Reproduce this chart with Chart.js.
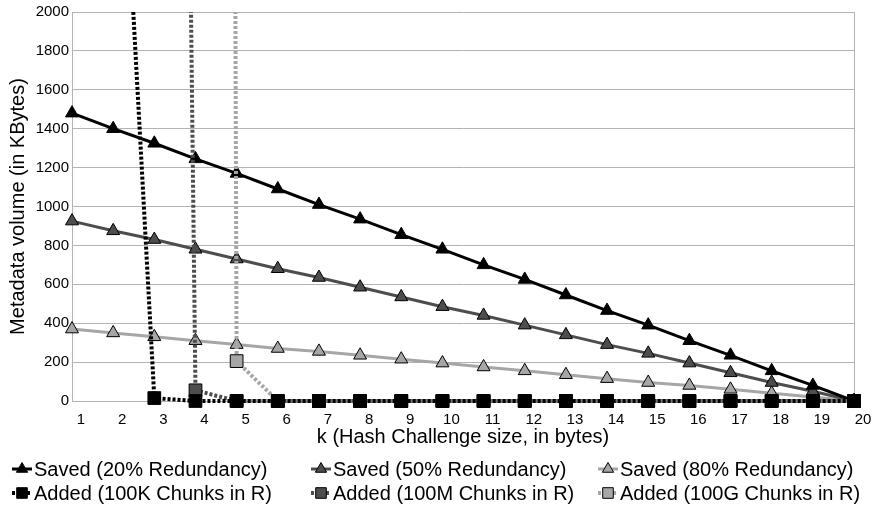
<!DOCTYPE html>
<html>
<head>
<meta charset="utf-8">
<script src="https://cdn.jsdelivr.net/npm/chart.js@4/dist/chart.umd.min.js"></script>
<style>
  html, body { margin: 0; padding: 0; background: #fff; }
  #wrap { width: 873px; height: 512px; position: relative; }
</style>
</head>
<body>
<div id="wrap"><canvas id="c" width="873" height="512"></canvas></div>
<script>
// Hash challenge sizes (bytes)
const kValues = [1, 2, 3, 4, 5, 6, 7, 8, 9, 10, 11, 12, 13, 14, 15, 16, 17, 18, 19, 20];

// Metadata saved, in KBytes
const saved20 = [1480, 1400, 1325, 1245, 1170, 1090, 1010, 935, 855, 780, 700, 625, 545, 465, 390, 310, 235, 155, 80, 0];
const saved50 = [925, 875, 830, 780, 730, 680, 635, 585, 535, 485, 440, 390, 340, 290, 245, 195, 145, 95, 50, 0];
const saved80 = [370, 350, 330, 310, 290, 270, 255, 235, 215, 195, 175, 155, 135, 115, 95, 80, 60, 40, 20, 0];

// Metadata added, in KBytes (null where far above the axis range)
const added100K = [null, 3900, 15, 0, 0, 0, 0, 0, 0, 0, 0, 0, 0, 0, 0, 0, 0, 0, 0, 0];
const added100M = [null, null, 18000, 55, 0, 0, 0, 0, 0, 0, 0, 0, 0, 0, 0, 0, 0, 0, 0, 0];
const added100G = [null, null, null, 60000, 205, 0, 0, 0, 0, 0, 0, 0, 0, 0, 0, 0, 0, 0, 0, 0];

const yTicks = { min: 0, max: 2000, step: 200 };

const FONT = '"Liberation Sans", Arial, sans-serif';
const GRID = '#b3b3b3';
// markers may spill past the sides and bottom of the plot, lines stop at the top
const CLIP = { left: 12, right: 12, top: 0, bottom: 12 };

function savedSet(label, data, line, fill, order) {
  return {
    label, data, order, clip: CLIP,
    borderColor: line, borderWidth: 3,
    pointStyle: 'triangle', pointRadius: 7.5,
    pointBackgroundColor: fill, pointBorderColor: '#000', pointBorderWidth: 1,
    tension: 0
  };
}
function addedSet(label, data, line, fill, order) {
  return {
    label, data, order, clip: CLIP,
    borderColor: line, borderWidth: 4, borderDash: [3, 2],
    pointStyle: 'rect', pointRadius: 9,
    pointBackgroundColor: fill, pointBorderColor: '#000', pointBorderWidth: 1,
    tension: 0
  };
}

// Legend drawn in a fixed 3-column grid below the axis
const gridLegend = {
  id: 'gridLegend',
  afterDraw(chart) {
    const ctx = chart.ctx;
    const cols = [12, 311, 598];
    const rows = [469, 493];
    ctx.save();
    chart.data.datasets.forEach((ds, i) => {
      const x = cols[i % 3];
      const y = rows[Math.floor(i / 3)];
      ctx.save();
      ctx.strokeStyle = ds.borderColor;
      ctx.lineWidth = ds.borderWidth;
      ctx.setLineDash(ds.borderDash || []);
      ctx.beginPath();
      ctx.moveTo(x, y);
      ctx.lineTo(x + 20, y);
      ctx.stroke();
      ctx.restore();
      ctx.save();
      ctx.fillStyle = ds.pointBackgroundColor;
      ctx.strokeStyle = ds.pointBorderColor;
      ctx.lineWidth = 1;
      Chart.helpers.drawPoint(ctx, {
        pointStyle: ds.pointStyle,
        radius: ds.pointStyle === 'rect' ? 7.5 : 6.5,
        rotation: 0,
        borderWidth: 1
      }, x + 10, y);
      ctx.restore();
      ctx.fillStyle = '#000';
      ctx.font = '20px ' + FONT;
      ctx.textBaseline = 'middle';
      ctx.textAlign = 'left';
      ctx.fillText(ds.label, x + 22, y + 1);
    });
    ctx.restore();
  }
};

new Chart(document.getElementById('c'), {
  type: 'line',
  data: {
    labels: kValues,
    datasets: [
      savedSet('Saved (20% Redundancy)', saved20, '#000000', '#000000', 3),
      savedSet('Saved (50% Redundancy)', saved50, '#4d4d4d', '#4d4d4d', 4),
      savedSet('Saved (80% Redundancy)', saved80, '#a6a6a6', '#a6a6a6', 5),
      addedSet('Added (100K Chunks in R)', added100K, '#000000', '#000000', 0),
      addedSet('Added (100M Chunks in R)', added100M, '#4d4d4d', '#4d4d4d', 1),
      addedSet('Added (100G Chunks in R)', added100G, '#a6a6a6', '#a6a6a6', 2)
    ]
  },
  options: {
    responsive: false,
    animation: false,
    events: [],
    layout: { padding: { top: 12, right: 19, bottom: 62, left: 0 } },
    plugins: {
      legend: { display: false },
      tooltip: { enabled: false }
    },
    scales: {
      x: {
        type: 'category',
        offset: false,
        afterFit(scale) { scale.height = 49; },
        grid: {
          drawTicks: false,
          color: (c) => (c.index === kValues.length - 1 || c.index === 0) ? GRID : 'rgba(0,0,0,0)',
          lineWidth: 1
        },
        border: { display: true, color: GRID, width: 1 },
        ticks: {
          color: '#000',
          font: { family: FONT, size: 15 },
          padding: 10,
          labelOffset: 9,
          maxRotation: 0,
          autoSkip: false
        },
        title: {
          display: true,
          text: 'k (Hash Challenge size, in bytes)',
          color: '#000',
          font: { family: FONT, size: 20 },
          padding: { top: 0, bottom: 1 }
        }
      },
      y: {
        min: yTicks.min,
        max: yTicks.max,
        afterFit(scale) { scale.width = 72; },
        grid: { drawTicks: false, color: GRID, lineWidth: 1 },
        border: { display: true, color: GRID, width: 1 },
        ticks: {
          stepSize: yTicks.step,
          color: '#000',
          font: { family: FONT, size: 15 },
          padding: 3,
          callback: (v) => String(v)
        },
        title: {
          display: true,
          text: 'Metadata volume (in KBytes)',
          color: '#000',
          font: { family: FONT, size: 20 },
          padding: { top: 6, bottom: 0 }
        }
      }
    }
  },
  plugins: [gridLegend]
});
</script>
</body>
</html>
